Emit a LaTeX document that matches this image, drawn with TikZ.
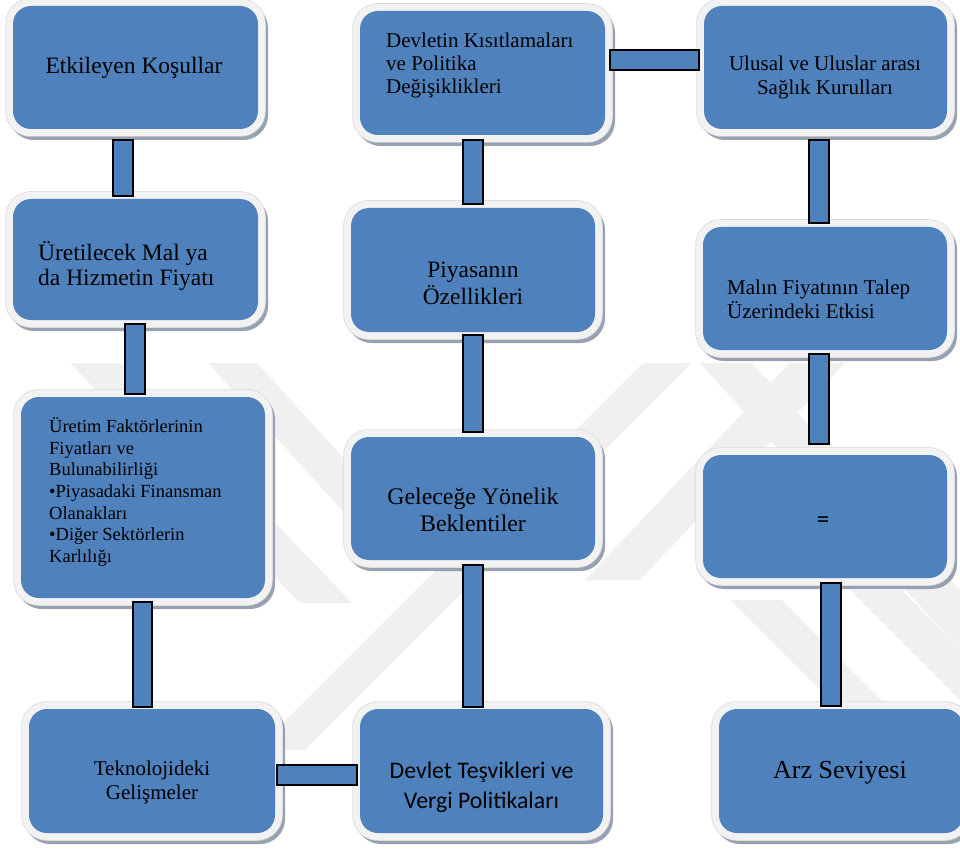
\documentclass[tikz,border=0pt]{standalone}
\usepackage{fontspec}
\setmainfont{Liberation Serif}
\newfontfamily\calib{Carlito}
\usetikzlibrary{calc}
\definecolor{boxblue}{HTML}{4F81BD}
\definecolor{framec}{HTML}{F2F2F2}
\definecolor{frameedge}{HTML}{DADADA}
\definecolor{shadowc}{HTML}{97A1B2}
\definecolor{wmark}{HTML}{F0F0F0}
\tikzset{
  bluebox/.style={rectangle, rounded corners=18pt, fill=boxblue, inner sep=0pt, outer sep=0pt,
    preaction={draw=shadowc, line width=14pt, transform canvas={shift={(3pt,-4pt)}}},
    preaction={draw=frameedge, line width=15.5pt},
    preaction={draw=framec, line width=14pt}},
  bar/.style={fill=boxblue, draw=black, line width=1.6pt},
  txt/.style={inner sep=0pt, align=center, text=black, font=\fontsize{23.5}{27}\selectfont},
  band/.style={fill=wmark, draw=none},
}
\begin{document}
\begin{tikzpicture}[x=1pt,y=-1pt]
\useasboundingbox (0,0) rectangle (960,850);
\clip (0,0) rectangle (960,850);
\fill[white] (0,0) rectangle (960,850);
% faint watermark
\fill[band] (70,363) -- (122,363) -- (352,603) -- (300,603) -- cycle;
\fill[band] (208,363) -- (257,363) -- (400,520) -- (351,520) -- cycle;
\fill[band] (643,363) -- (692,363) -- (305,750) -- (256,750) -- cycle;
\fill[band] (790,363) -- (845,363) -- (640,580) -- (585,580) -- cycle;
\fill[band] (700,363) -- (752,363) -- (960,590) -- (960,650) -- cycle;
\fill[band] (730,600) -- (782,600) -- (960,780) -- (960,830) -- cycle;
\fill[band] (850,590) -- (902,590) -- (960,650) -- (960,700) -- cycle;
% boxes
\node[bluebox, minimum width=245pt, minimum height=123pt] (b1) at (135.5,67.5) {};
\node[bluebox, minimum width=245pt, minimum height=121pt] (b2) at (135.5,259.5) {};
\node[bluebox, minimum width=244pt, minimum height=201pt] (b3) at (143,497.5) {};
\node[bluebox, minimum width=246pt, minimum height=124pt] (b4) at (152,771) {};
\node[bluebox, minimum width=243pt, minimum height=124pt] (b5) at (481.5,771) {};
\node[bluebox, minimum width=244pt, minimum height=123pt] (b6) at (473,498.5) {};
\node[bluebox, minimum width=244pt, minimum height=124pt] (b7) at (473,270) {};
\node[bluebox, minimum width=245pt, minimum height=124pt] (b8) at (482.5,73) {};
\node[bluebox, minimum width=243pt, minimum height=123pt] (b9) at (825.5,67.5) {};
\node[bluebox, minimum width=244pt, minimum height=123pt] (b10) at (825,288.5) {};
\node[bluebox, minimum width=244pt, minimum height=123pt] (b11) at (825,516.5) {};
\node[bluebox, minimum width=244pt, minimum height=124pt] (b12) at (841,771) {};
% connectors
\draw[bar] ($(b1.south)+(-22.5,11)$) rectangle ($(b2.north)+(-2.5,-3)$);
\draw[bar] ($(b2.south)+(-10.5,4)$) rectangle ($(b3.north)+(2,-3)$);
\draw[bar] ($(b3.south)+(-10,4)$) rectangle ($(b4.north)+(0,-2)$);
\draw[bar] ($(b4.east)+(2,-6)$) rectangle ($(b5.west)+(-3,14)$);
\draw[bar] ($(b6.south)+(-10,5)$) rectangle ($(b5.north)+(1.5,-2)$);
\draw[bar] ($(b7.south)+(-10,3)$) rectangle ($(b6.north)+(10,-5)$);
\draw[bar] ($(b8.south)+(-19.5,5)$) rectangle ($(b7.north)+(10,-4)$);
\draw[bar] ($(b8.east)+(5,-23)$) rectangle ($(b9.west)+(-5,2.5)$);
\draw[bar] ($(b9.south)+(-16.5,11)$) rectangle ($(b10.north)+(4,-4)$);
\draw[bar] ($(b10.south)+(-16,4)$) rectangle ($(b11.north)+(4,-11)$);
\draw[bar] ($(b11.south)+(-4,5)$) rectangle ($(b12.north)+(0,-3)$);
% texts
\node[txt] (t1) at (134,68) {Etkileyen Koşullar};
\node[txt, anchor=west, align=left, font=\fontsize{23.5}{25}\selectfont] (t2) at (38,266) {Üretilecek Mal ya\\da Hizmetin Fiyatı};
\node[txt, anchor=west, align=left, font=\fontsize{18.5}{21.7}\selectfont] (t3) at (49,492) {Üretim Faktörlerinin\\Fiyatları ve\\Bulunabilirliği\\•Piyasadaki Finansman\\Olanakları\\•Diğer Sektörlerin\\Karlılığı};
\node[txt, font=\fontsize{21}{24}\selectfont] (t4) at (152,782) {Teknolojideki\\Gelişmeler};
\node[txt, font=\calib\fontsize{23.8}{30}\selectfont] (t5) at (481.5,787) {Devlet Teşvikleri ve\\Vergi Politikaları};
\node[txt, font=\fontsize{23.8}{27}\selectfont] (t6) at (473,510) {Geleceğe Yönelik\\Beklentiler};
\node[txt] (t7) at (473,283) {Piyasanın\\Özellikleri};
\node[txt, anchor=west, align=left, font=\fontsize{21}{23}\selectfont] (t8) at (386,65) {Devletin Kısıtlamaları\\ve Politika\\Değişiklikleri};
\node[txt, font=\fontsize{21}{24}\selectfont] (t9) at (825,77) {Ulusal ve Uluslar arası\\Sağlık Kurulları};
\node[txt, anchor=west, align=left, font=\fontsize{21}{24}\selectfont] (t10) at (727,299) {Malın Fiyatının Talep\\Üzerindeki Etkisi};
\node[txt, font=\calib\fontsize{25}{28}\selectfont] (t11) at (823,522) {=};
\node[txt, font=\fontsize{26}{30}\selectfont] (t12) at (840,773) {Arz Seviyesi};
\end{tikzpicture}
\end{document}
